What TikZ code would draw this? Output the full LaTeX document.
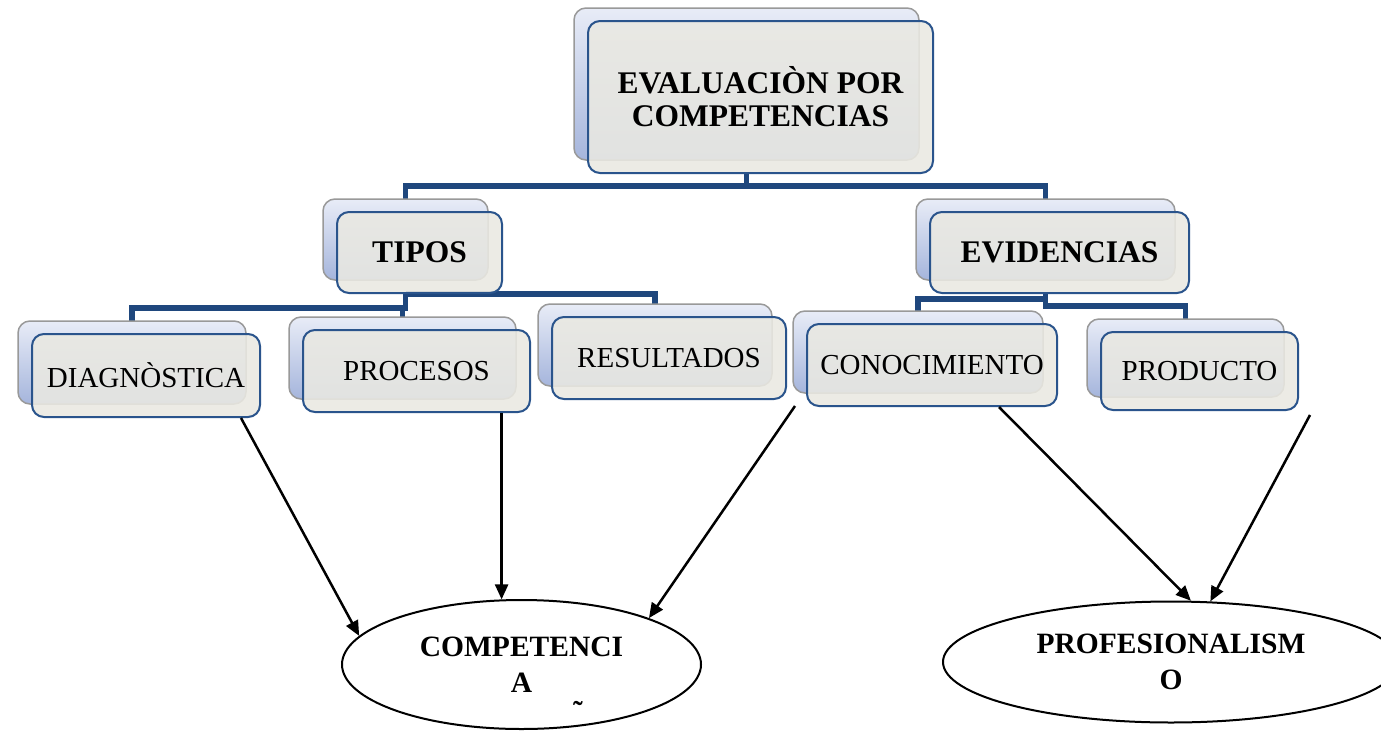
\documentclass[tikz,border=0pt]{standalone}
\usepackage{fontspec}
\setmainfont{Liberation Serif}
\usetikzlibrary{shapes.geometric, arrows.meta, shadows, backgrounds}
\definecolor{boxblue}{RGB}{42,84,140}
\definecolor{linkblue}{RGB}{31,71,125}
\definecolor{boxfill}{RGB}{234,233,226}
\definecolor{backtop}{RGB}{232,236,247}
\definecolor{backbot}{RGB}{165,181,220}
\tikzset{
    >={Triangle[length=15pt,width=13pt]}, % filled arrow heads
    box/.style={draw=boxblue, line width=2pt, rounded corners=12pt, fill=boxfill,
        fill opacity=0.88, text opacity=1, inner sep=0pt,
        copy shadow={shadow xshift=-14pt, shadow yshift=13pt, draw=gray!80,
            line width=1.5pt, fill opacity=1, top color=backtop, bottom color=backbot}}, % box with the blue copy behind it
    head/.style={box, font=\bfseries\fontsize{31.5}{33}\selectfont, align=center},
    item/.style={box, font=\fontsize{29}{31}\selectfont},
    goal/.style={ellipse, draw, line width=2pt, inner sep=0pt,
        font=\bfseries\fontsize{29.5}{36}\selectfont, align=center},
    link/.style={draw=linkblue, line width=5.5pt}, % tree lines
    arr/.style={->, line width=2.5pt},
}
\begin{document}
\begin{tikzpicture}[x=1pt, y=-1pt]
    \useasboundingbox (0,0) rectangle (1381,731);
    % tree of boxes
    \node[head, minimum width=345pt, minimum height=152pt] (top) at (760.5,97) {EVALUACIÒN POR\\COMPETENCIAS};
    \node[head, minimum width=165pt, minimum height=81pt] (tipos) at (419.5,252.5) {TIPOS};
    \node[head, minimum width=259pt, minimum height=81pt] (evid) at (1059.5,252.5) {EVIDENCIAS};
    \node[item, minimum width=228pt, minimum height=83pt] (diag) at (146,375.5) {DIAGNÒSTICA};
    \node[item, minimum width=227pt, minimum height=82pt] (proc) at (416.5,371) {PROCESOS};
    \node[item, minimum width=234pt, minimum height=82pt] (resul) at (669,358) {RESULTADOS};
    \node[item, minimum width=250pt, minimum height=82pt] (conoc) at (932,365) {CONOCIMIENTO};
    \node[item, minimum width=197pt, minimum height=78pt] (prod) at (1199.5,371) {PRODUCTO};
    % targets
    \node[goal, minimum width=359pt, minimum height=129pt] (comp) at (521.5,664.5) {COMPETENCI\\A};
    \node[goal, minimum width=456pt, minimum height=121pt] (prof) at (1171,662) {PROFESIONALISM\\O};
    \node[font=\bfseries\fontsize{29}{30}\selectfont, inner sep=0pt, anchor=base] (tilde) at (578,721) {˜};
    \begin{scope}[on background layer]
        \fill[white] (0,0) rectangle (1381,731);
        \draw[link] ([xshift=-14pt]top.south) -- ++(0,12) -| ([xshift=-14pt]tipos.north);
        \draw[link] ([xshift=-14pt]top.south) -- ++(0,12) -| ([xshift=-14pt]evid.north);
        \draw[link] ([xshift=-14pt]tipos.south) -- ++(0,14) -| ([xshift=-14pt]diag.north);
        \draw[link] ([xshift=-14pt]tipos.south) -- ++(0,14) -| ([xshift=-14pt]proc.north);
        \draw[link] ([xshift=-14pt]tipos.south) -| ([xshift=-14pt]resul.north);
        \draw[link] ([xshift=-14pt]evid.south) -- ++(0,5) -| ([xshift=-14pt]conoc.north);
        \draw[link] ([xshift=-14pt]evid.south) -- ++(0,12) -| ([xshift=-14pt]prod.north);
    \end{scope}
    % arrows down to the ellipses
    \draw[arr] ([xshift=95pt]diag.south) -- (comp.170);
    \draw[arr] (comp.107 |- proc.south) -- (comp.107);
    \draw[arr] ([xshift=8pt,yshift=-6pt]resul.south east) -- (comp.20);
    \draw[arr] ([xshift=67pt]conoc.south) -- (prof.72);
    \draw[arr] ([xshift=11pt,yshift=-4pt]prod.south east) -- (prof.57);
\end{tikzpicture}
\end{document}
